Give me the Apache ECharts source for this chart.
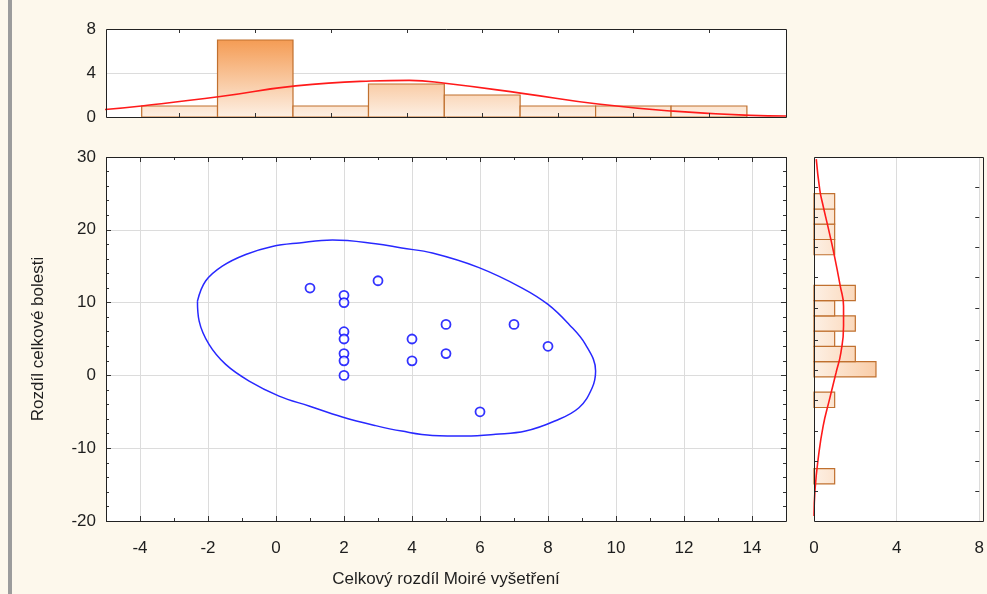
<!DOCTYPE html>
<html>
<head>
<meta charset="utf-8">
<script src="https://cdn.jsdelivr.net/npm/echarts@6/dist/echarts.min.js"></script>
<style>
  html, body { margin: 0; padding: 0; background: #fdf8ec; }
  #chart { width: 987px; height: 594px; }
</style>
</head>
<body>
<div id="chart"></div>
<script>
// scatter pairs (x = Moiré difference, y = pain difference)
const scatterX = [1, 2, 2, 2, 2, 2, 2, 2, 3, 4, 4, 5, 5, 6, 7, 8];
const scatterY = [12, 11, 10, 6, 5, 3, 2, 0, 13, 5, 2, 7, 3, -5, 7, 4];

// confidence ellipse, read around the outline
const ellipseX = [-2.31, -2.07, -1.58, -0.89, -0.11, 0.68, 1.66, 2.93, 3.7, 4.6, 5.97, 7.24, 8.0, 8.62, 9.1, 9.4,
  9.3, 8.91, 8.2, 7.34, 6.46, 5.58, 4.6, 3.7, 2.93, 1.95, 0.97, 0.09, -0.79, -1.48, -1.97, -2.26, -2.31];
const ellipseY = [10.2, 12.96, 15.0, 16.6, 17.7, 18.2, 18.6, 18.1, 17.5, 16.8, 14.8, 12.0, 9.75, 7.0, 4.26, 0.6,
  -1.7, -4.44, -6.27, -7.65, -8.1, -8.33, -8.24, -7.65, -6.9, -5.72, -4.21, -2.84, -0.78, 1.51, 4.26, 7.46, 10.2];

// top histogram (x variable)
const topBinEdges = [-3.95, -1.72, 0.5, 2.72, 4.95, 7.18, 9.4, 11.62, 13.85];
const topCounts = [1, 7, 1, 3, 2, 1, 1, 1];
const topTickX = [-2.84, -0.61, 1.61, 3.84, 6.06, 8.29, 10.51, 12.74];
const topCurveX = [-5.03, -3.89, -1.64, 0.58, 2.79, 3.92, 5.03, 7.24, 9.47, 11.69, 13.94, 15];
const topCurveY = [0.68, 1.03, 1.86, 2.83, 3.27, 3.33, 3.04, 2.15, 1.18, 0.53, 0.15, 0.09];

// right histogram (y variable)
const rightBinLo = [-14.9, -4.41, -0.21, 1.88, 3.98, 6.08, 8.18, 10.28, 16.57, 18.67, 20.77, 22.86];
const rightBinHi = [-12.8, -2.31, 1.88, 3.98, 6.08, 8.18, 10.28, 12.37, 18.67, 20.77, 22.86, 24.96];
const rightCounts = [1, 1, 3, 2, 1, 2, 1, 2, 1, 1, 1, 1];
const rightTickY = [-15.9, -11.8, -7.6, -3.4, 0.8, 4.9, 9.2, 13.5, 17.6, 21.8, 25.9];
const rightCurveY = [29.7, 25.5, 23.3, 20.5, 16.8, 12.3, 9.5, 6.8, 3.1, 0.4, -3.3, -7.0, -11.5, -15.7, -19.3];
const rightCurveX = [0.11, 0.28, 0.44, 0.67, 0.96, 1.27, 1.43, 1.43, 1.30, 1.07, 0.75, 0.44, 0.2, 0.05, 0];

const font = 'Liberation Sans, Arial, sans-serif';
const txt = '#1e1e1e';
const gridLine = '#dcdcdc';
const barStroke = '#c0702f';
const tickColor = '#333';
const stops = [{ offset: 0, color: '#fdf0e4' }, { offset: 1, color: '#f39040' }];

const chart = echarts.init(document.getElementById('chart'), null, { renderer: 'canvas' });

const topGrad = new echarts.graphic.LinearGradient(0, 117, 0, 29, stops, true);
const rightGrad = new echarts.graphic.LinearGradient(814, 0, 983, 0, stops, true);

const frame = { show: true, backgroundColor: '#fff', borderWidth: 0 };
const label = { color: txt, fontSize: 17, fontFamily: font };
const noLine = { show: false, onZero: false };
const boxes = [[106, 29, 680, 88], [106, 157, 680, 364], [814, 157, 169, 364]];

function tickLine(x1, y1, x2, y2) {
  return { type: 'line', shape: { x1, y1, x2, y2 }, style: { stroke: tickColor, lineWidth: 1 } };
}

chart.setOption({
  backgroundColor: '#fdf8ec',
  animation: false,
  graphic: [{
    type: 'rect', shape: { x: 8, y: 0, width: 4, height: 594 },
    style: { fill: '#9c9c9c' }, silent: true
  }].concat(boxes.map(b => ({
    type: 'rect', z: 100, silent: true,
    shape: { x: b[0] + 0.5, y: b[1] + 0.5, width: b[2], height: b[3] },
    style: { fill: 'none', stroke: '#222', lineWidth: 1 }
  }))),
  grid: boxes.map(b => Object.assign({ left: b[0], top: b[1], width: b[2], height: b[3] }, frame)),
  xAxis: [
    {
      gridIndex: 0, type: 'value', min: -5, max: 15,
      axisLine: noLine, axisTick: { show: false }, axisLabel: { show: false },
      splitLine: { show: false }
    },
    {
      gridIndex: 1, type: 'value', min: -5, max: 15, splitNumber: 10,
      name: 'Celkový rozdíl Moiré vyšetření', nameLocation: 'middle', nameGap: 50,
      nameTextStyle: label,
      axisLine: noLine,
      axisTick: { show: true, inside: true, length: 5, lineStyle: { color: tickColor } },
      minorTick: { show: true, splitNumber: 2, length: 3, lineStyle: { color: tickColor } },
      axisLabel: Object.assign({ margin: 19, showMinLabel: false, showMaxLabel: false }, label),
      splitLine: { show: true, lineStyle: { color: gridLine, width: 1 } }
    },
    {
      gridIndex: 2, type: 'value', min: 0, max: 8, interval: 4,
      axisLine: noLine, axisTick: { show: false },
      axisLabel: Object.assign({ margin: 19 }, label),
      splitLine: { show: true, lineStyle: { color: gridLine, width: 1 } }
    },
    {
      gridIndex: 1, type: 'value', position: 'top', min: -5, max: 15, splitNumber: 10,
      axisLine: noLine,
      axisTick: { show: true, inside: true, length: 5, lineStyle: { color: tickColor } },
      minorTick: { show: true, splitNumber: 2, length: 3, lineStyle: { color: tickColor } },
      axisLabel: { show: false }, splitLine: { show: false }
    }
  ],
  yAxis: [
    {
      gridIndex: 0, type: 'value', min: 0, max: 8, interval: 4,
      axisLine: noLine, axisTick: { show: false },
      axisLabel: Object.assign({ margin: 10 }, label),
      splitLine: { show: true, lineStyle: { color: gridLine, width: 1 } }
    },
    {
      gridIndex: 1, type: 'value', min: -20, max: 30, interval: 10,
      name: 'Rozdíl celkové bolesti', nameLocation: 'middle', nameGap: 59,
      nameTextStyle: label,
      axisLine: noLine,
      axisTick: { show: true, inside: true, length: 5, lineStyle: { color: tickColor } },
      minorTick: { show: true, splitNumber: 5, length: 3, lineStyle: { color: tickColor } },
      axisLabel: Object.assign({ margin: 10 }, label),
      splitLine: { show: true, lineStyle: { color: gridLine, width: 1 } }
    },
    {
      gridIndex: 2, type: 'value', min: -20, max: 30, interval: 10,
      axisLine: noLine, axisTick: { show: false },
      axisLabel: { show: false }, splitLine: { show: false }
    },
    {
      gridIndex: 1, type: 'value', position: 'right', min: -20, max: 30, interval: 10,
      axisLine: noLine,
      axisTick: { show: true, inside: true, length: 5, lineStyle: { color: tickColor } },
      minorTick: { show: true, splitNumber: 5, length: 3, lineStyle: { color: tickColor } },
      axisLabel: { show: false }, splitLine: { show: false }
    }
  ],
  series: [
    {
      type: 'custom', xAxisIndex: 0, yAxisIndex: 0,
      data: topCounts.map((c, i) => [topBinEdges[i], topBinEdges[i + 1], c]),
      renderItem: (params, api) => {
        const p0 = api.coord([api.value(0), api.value(2)]);
        const p1 = api.coord([api.value(1), 0]);
        return {
          type: 'rect',
          shape: { x: p0[0], y: p0[1], width: p1[0] - p0[0], height: p1[1] - p0[1] },
          style: { fill: topGrad, stroke: barStroke, lineWidth: 1.2 }
        };
      },
      z: 2
    },
    {
      // ticks at bin centres along top and bottom of the upper histogram
      type: 'custom', xAxisIndex: 0, yAxisIndex: 0,
      data: topTickX.map(x => [x]),
      renderItem: (params, api) => {
        const b = api.coord([api.value(0), 0]);
        const t = api.coord([api.value(0), 8]);
        const x = Math.round(b[0]) + 0.5;
        return {
          type: 'group',
          children: [tickLine(x, b[1], x, b[1] - 4), tickLine(x, t[1], x, t[1] + 4)]
        };
      },
      z: 5
    },
    {
      type: 'line', xAxisIndex: 0, yAxisIndex: 0, smooth: true, symbol: 'none',
      lineStyle: { color: '#ff1a1a', width: 1.6 },
      data: topCurveX.map((x, i) => [x, topCurveY[i]]), z: 3
    },
    {
      type: 'line', xAxisIndex: 1, yAxisIndex: 1, smooth: 0.4, symbol: 'none',
      lineStyle: { color: '#2828ff', width: 1.5 },
      data: ellipseX.map((x, i) => [x, ellipseY[i]]), z: 3
    },
    {
      type: 'scatter', xAxisIndex: 1, yAxisIndex: 1, symbol: 'circle', symbolSize: 9,
      itemStyle: { color: '#fff', borderColor: '#0000ff', borderWidth: 1.8 },
      data: scatterX.map((x, i) => [x, scatterY[i]]), z: 4
    },
    {
      type: 'custom', xAxisIndex: 2, yAxisIndex: 2,
      data: rightCounts.map((c, i) => [rightBinLo[i], rightBinHi[i], c]),
      renderItem: (params, api) => {
        const p0 = api.coord([0, api.value(1)]);
        const p1 = api.coord([api.value(2), api.value(0)]);
        return {
          type: 'rect',
          shape: { x: p0[0], y: p0[1], width: p1[0] - p0[0], height: p1[1] - p0[1] },
          style: { fill: rightGrad, stroke: barStroke, lineWidth: 1.2 }
        };
      },
      z: 2
    },
    {
      // ticks along the left and right of the side histogram
      type: 'custom', xAxisIndex: 2, yAxisIndex: 2,
      data: rightTickY.map(y => [y]),
      renderItem: (params, api) => {
        const l = api.coord([0, api.value(0)]);
        const r = api.coord([8, api.value(0)]);
        const y = Math.round(l[1]) + 0.5;
        return {
          type: 'group',
          children: [tickLine(l[0], y, l[0] + 4, y), tickLine(r[0], y, r[0] - 4, y)]
        };
      },
      z: 5
    },
    {
      type: 'line', xAxisIndex: 2, yAxisIndex: 2, smooth: true, symbol: 'none',
      lineStyle: { color: '#ff1a1a', width: 1.6 },
      data: rightCurveX.map((x, i) => [x, rightCurveY[i]]), z: 3
    }
  ]
});
</script>
</body>
</html>
